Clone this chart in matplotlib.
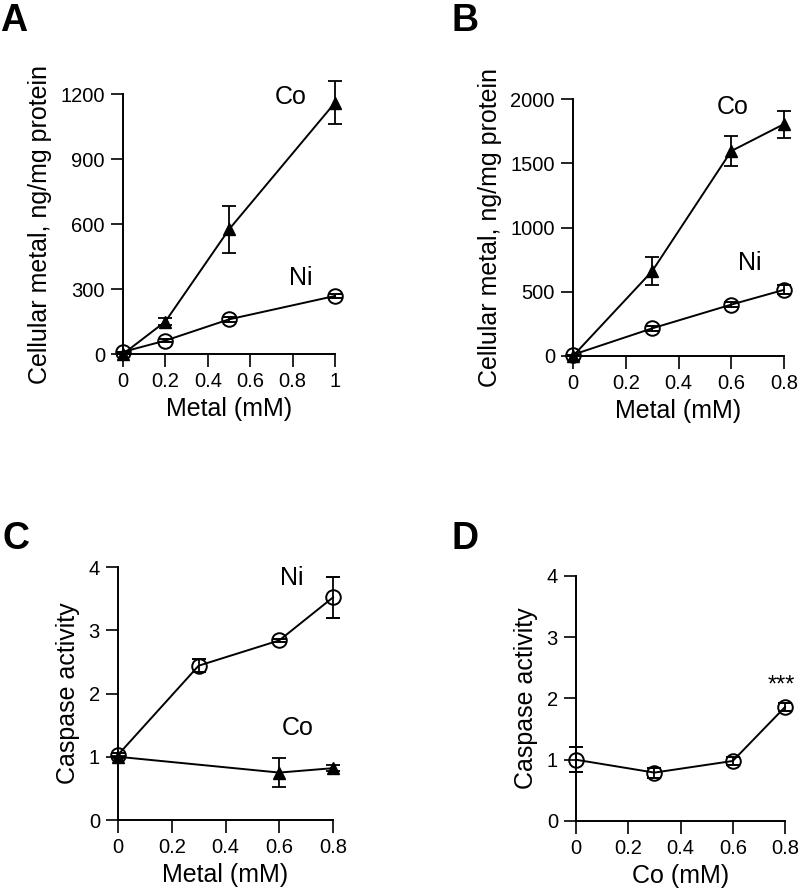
import matplotlib
matplotlib.use("Agg")
import matplotlib.pyplot as plt

plt.rcParams['font.family'] = ['Liberation Sans', 'DejaVu Sans']

# Panel A
a_x = [0, 0.2, 0.5, 1.0]
a_co = [0, 150, 575, 1160]
a_co_err = [0, 15, 107, 98]
a_ni = [10, 62, 160, 268]
a_ni_err = [0, 8, 12, 10]

# Panel B
b_x = [0, 0.3, 0.6, 0.8]
b_co = [0, 660, 1595, 1805]
b_co_err = [0, 108, 115, 105]
b_ni = [10, 215, 400, 515]
b_ni_err = [0, 20, 20, 35]

# Panel C
c_x_ni = [0, 0.3, 0.6, 0.8]
c_ni = [1.03, 2.44, 2.84, 3.52]
c_ni_err = [0.03, 0.1, 0.03, 0.32]
c_x_co = [0, 0.6, 0.8]
c_co = [1.0, 0.75, 0.82]
c_co_err = [0.02, 0.23, 0.05]

# Panel D
d_x = [0, 0.3, 0.6, 0.8]
d_co = [1.0, 0.79, 0.98, 1.86]
d_co_err = [0.2, 0.08, 0.07, 0.06]

fig = plt.figure(figsize=(8, 8.92), dpi=100)

def style(ax, xlim, ylim, xticks, xticklabels, yticks, xlabel, ylabel):
    ax.set_xlim(*xlim)
    ax.set_ylim(*ylim)
    ax.set_xticks(xticks)
    ax.set_xticklabels(xticklabels)
    ax.set_yticks(yticks)
    ax.spines['top'].set_visible(False)
    ax.spines['right'].set_visible(False)
    ax.spines['left'].set_linewidth(1.4)
    ax.spines['bottom'].set_linewidth(1.4)
    ax.tick_params(direction='out', length=9, width=1.2, labelsize=14.5, pad=4)
    ax.set_xlabel(xlabel, fontsize=18, labelpad=4)
    ax.set_ylabel(ylabel, fontsize=18, labelpad=6)

tri = dict(marker='^', color='black', markersize=9, lw=1.4, capsize=5,
           elinewidth=1.3, capthick=1.3, clip_on=False, zorder=3)
circ = dict(marker='o', color='black', markersize=10.5, lw=1.4, capsize=5,
            elinewidth=1.3, capthick=1.3, fillstyle='none', markeredgewidth=1.4,
            clip_on=False, zorder=3)

# A
axA = fig.add_axes([0.15375, 0.6031, 0.265, 0.2915])
axA.errorbar(a_x, a_co, yerr=a_co_err, **tri)
axA.errorbar(a_x, a_ni, yerr=a_ni_err, **circ)
style(axA, (0, 1), (0, 1200), [0, 0.2, 0.4, 0.6, 0.8, 1.0],
      ['0', '0.2', '0.4', '0.6', '0.8', '1'], [0, 300, 600, 900, 1200],
      'Metal (mM)', 'Cellular metal, ng/mg protein')
axA.text(0.79, 1187, 'Co', fontsize=18, ha='center', va='center')
axA.text(0.84, 350, 'Ni', fontsize=18, ha='center', va='center')

# B
axB = fig.add_axes([0.71625, 0.6009, 0.26375, 0.2881])
axB.errorbar(b_x, b_co, yerr=b_co_err, **tri)
axB.errorbar(b_x, b_ni, yerr=b_ni_err, **circ)
style(axB, (0, 0.8), (0, 2000), [0, 0.2, 0.4, 0.6, 0.8],
      ['0', '0.2', '0.4', '0.6', '0.8'], [0, 500, 1000, 1500, 2000],
      'Metal (mM)', 'Cellular metal, ng/mg protein')
axB.text(0.605, 1938, 'Co', fontsize=18, ha='center', va='center')
axB.text(0.67, 724, 'Ni', fontsize=18, ha='center', va='center')

# C
axC = fig.add_axes([0.1475, 0.0807, 0.26875, 0.2836])
axC.errorbar(c_x_ni, c_ni, yerr=c_ni_err, **circ)
axC.errorbar(c_x_co, c_co, yerr=c_co_err, **tri)
style(axC, (0, 0.8), (0, 4), [0, 0.2, 0.4, 0.6, 0.8],
      ['0', '0.2', '0.4', '0.6', '0.8'], [0, 1, 2, 3, 4],
      'Metal (mM)', 'Caspase activity')
axC.text(0.646, 3.82, 'Ni', fontsize=18, ha='center', va='center')
axC.text(0.67, 1.45, 'Co', fontsize=18, ha='center', va='center')

# D
axD = fig.add_axes([0.72, 0.0796, 0.26125, 0.2747])
axD.errorbar(d_x, d_co, yerr=d_co_err, **circ)
style(axD, (0, 0.8), (0, 4), [0, 0.2, 0.4, 0.6, 0.8],
      ['0', '0.2', '0.4', '0.6', '0.8'], [0, 1, 2, 3, 4],
      'Co (mM)', 'Caspase activity')
axD.text(0.785, 2.12, '***', fontsize=17, ha='center', va='baseline')

# Panel letters
for lbl, x, y in [('A', 0.0, 0.997), ('B', 0.565, 0.997), ('C', 0.003, 0.416), ('D', 0.565, 0.416)]:
    fig.text(x, y, lbl, fontsize=27, fontweight='bold', ha='left', va='top')

fig.savefig('out.png', dpi=100)
